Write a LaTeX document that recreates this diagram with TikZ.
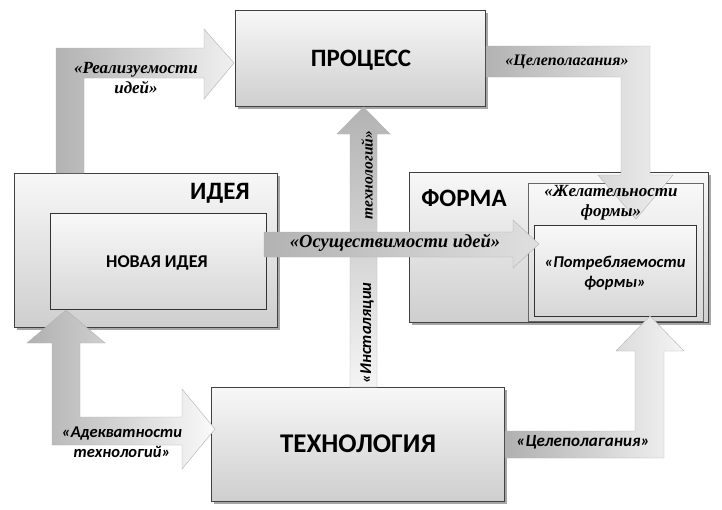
\documentclass[tikz,border=0pt]{standalone}
\usepackage{fontspec}
\setmainfont{Carlito}
\newfontfamily\lblserif{Liberation Serif}
\usetikzlibrary{shadows}
\begin{document}
\begin{tikzpicture}[x=1pt,y=-1pt,
  box/.style={draw=black!75, line width=0.8pt, rectangle, anchor=north west, inner sep=0pt,
    top color=gray!6, bottom color=gray!38,
    drop shadow={shadow xshift=2.5pt, shadow yshift=-2.5pt, opacity=0.35, fill=black}},
  innerbox/.style={draw=black!80, line width=0.8pt, rectangle, anchor=north west, inner sep=0pt,
    top color=gray!5, bottom color=gray!32},
  fat/.style={draw=gray!60, line width=0.4pt},
  head/.style={text=black},
  lbl/.style={font=\lblserif\bfseries\itshape\fontsize{17}{20}\selectfont, align=center, text=black, inner sep=0pt},
  lbls/.style={font=\bfseries\itshape\fontsize{16.5}{20}\selectfont, align=center, text=black, inner sep=0pt}
]
\useasboundingbox (0,0) rectangle (722,509);
\fill[white] (0,0) rectangle (722,509);

% boxes
\node[box, minimum width=250pt, minimum height=96pt] (proc) at (235,10) {};
\node[box, minimum width=263pt, minimum height=154pt] (idea) at (14,173) {};
\node[innerbox, minimum width=216pt, minimum height=96pt] (newidea) at (50,213) {};
\node[box, minimum width=299pt, minimum height=150pt] (forma) at (409,172) {};
\node[innerbox, draw=black!60, minimum width=175pt, minimum height=138pt] (wish) at (528,183) {};
\node[innerbox, minimum width=162pt, minimum height=91pt] (consume) at (534,225) {};
\node[box, minimum width=293pt, minimum height=114pt] (tech) at (211,387) {};

% arrow: Инсталяции технологий (up)
\path[fat, top color=gray!60, bottom color=gray!8]
  (350,387) -- (350,134) -- (337,134) -- (363.5,107) -- (390,134) -- (377,134) -- (377,387) -- cycle;

% arrow: Реализуемости идей
\path[fat, left color=gray!60, right color=gray!12]
  (56,173) -- (56,48) -- (204,48) -- (204,29) -- (234,63) -- (204,99) -- (204,78) -- (84,78) -- (84,173) -- cycle;

% arrow: Целеполагания (top)
\path[fat, left color=gray!60, right color=gray!12]
  (486,46) -- (650,46) -- (650,175) -- (673,175) -- (636,219) -- (598,175) -- (621,175) -- (621,77) -- (486,77) -- cycle;

% arrow: Осуществимости идей
\path[fat, left color=gray!60, right color=gray!25]
  (264,232) -- (513,232) -- (513,220) -- (539,244) -- (513,268) -- (513,257) -- (264,257) -- cycle;

% arrow: Адекватности технологий
\path[fat, left color=gray!62, right color=gray!4]
  (52,343) -- (27,343) -- (66,310) -- (105,343) -- (80,343) -- (80,417) -- (182,417) -- (182,389)
  -- (215,429) -- (182,469) -- (182,445) -- (52,445) -- cycle;

% arrow: Целеполагания (bottom)
\path[fat, left color=gray!62, right color=gray!8]
  (505,431) -- (635,431) -- (635,351) -- (616,351) -- (650,316) -- (684,351) -- (664,351) -- (664,458) -- (505,458) -- cycle;

% headings
\node[head, font=\bfseries\fontsize{25}{28}\selectfont] (tproc) at (361,60) {ПРОЦЕСС};
\node[head, font=\bfseries\fontsize{25}{28}\selectfont] (tidea) at (220,193) {ИДЕЯ};
\node[head, font=\bfseries\fontsize{18}{21}\selectfont] (tnew) at (157,263) {НОВАЯ ИДЕЯ};
\node[head, font=\bfseries\fontsize{25}{28}\selectfont] (tforma) at (464,198) {ФОРМА};
\node[head, font=\bfseries\fontsize{27}{30}\selectfont] (ttech) at (358,444) {ТЕХНОЛОГИЯ};

% labels
\node[lbl] (lreal) at (136,78) {«Реализуемости\\идей»};
\node[lbl, font=\lblserif\bfseries\itshape\fontsize{16}{20}\selectfont] (lcel1) at (567,62) {«Целеполагания»};
\node[lbl] (lwish) at (611,203) {«Желательности\\формы»};
\node[lbl, font=\lblserif\bfseries\itshape\fontsize{18.5}{20}\selectfont] (losu) at (395,243) {«Осуществимости идей»};
\node[lbls] (lcons) at (615,273) {«Потребляемости\\формы»};
\node[lbl, font=\lblserif\bfseries\itshape\fontsize{15.5}{20}\selectfont, rotate=90] (ltech) at (367,175) {технологий»};
\node[lbls, rotate=90] (linst) at (367,333) {«Инсталяции};
\node[lbls] (ladek) at (122,442) {«Адекватности\\технологий»};
\node[lbls, font=\bfseries\itshape\fontsize{17}{20}\selectfont] (lcel2) at (583,442) {«Целеполагания»};
\end{tikzpicture}
\end{document}
